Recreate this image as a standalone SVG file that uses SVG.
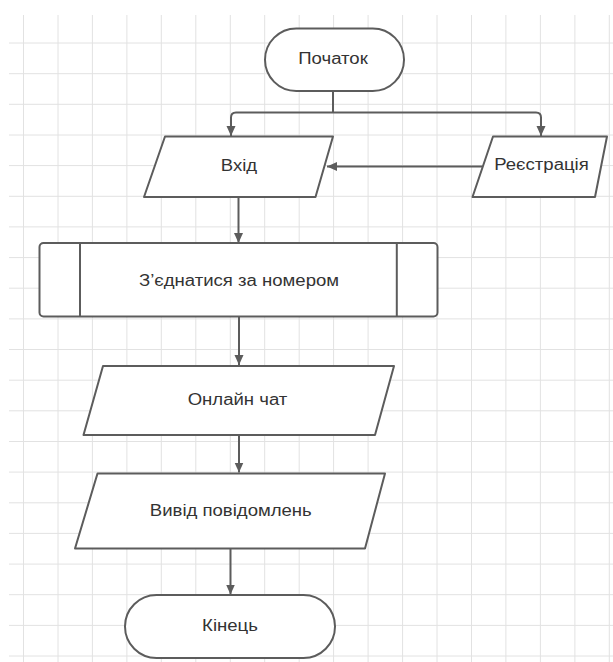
<svg xmlns="http://www.w3.org/2000/svg" width="613" height="662" viewBox="0 0 613 662">
<style>
.grid line{stroke:#e2e2e2;stroke-width:1}
.shape{fill:#fff;stroke:#5c5c5c;stroke-width:2;stroke-linejoin:round}
.conn path{fill:none;stroke:#5c5c5c;stroke-width:2}
.lbl{font-family:"Liberation Sans",Arial,sans-serif;font-size:16px;fill:#333;text-anchor:middle}
</style>
<defs>
<marker id="arr" markerUnits="userSpaceOnUse" markerWidth="11" markerHeight="10" refX="10" refY="4.5" orient="auto">
<path d="M0,0 L10,4.5 L0,9 z" fill="#5c5c5c"/>
</marker>
</defs>
<rect width="613" height="662" fill="#fff"/>
<g class="grid">
<line x1="23.5" y1="15" x2="23.5" y2="662"/>
<line x1="58" y1="15" x2="58" y2="662"/>
<line x1="92.4" y1="15" x2="92.4" y2="662"/>
<line x1="126.9" y1="15" x2="126.9" y2="662"/>
<line x1="161.3" y1="15" x2="161.3" y2="662"/>
<line x1="195.8" y1="15" x2="195.8" y2="662"/>
<line x1="230.3" y1="15" x2="230.3" y2="662"/>
<line x1="264.7" y1="15" x2="264.7" y2="662"/>
<line x1="299.2" y1="15" x2="299.2" y2="662"/>
<line x1="333.6" y1="15" x2="333.6" y2="662"/>
<line x1="368.1" y1="15" x2="368.1" y2="662"/>
<line x1="402.6" y1="15" x2="402.6" y2="662"/>
<line x1="437" y1="15" x2="437" y2="662"/>
<line x1="471.5" y1="15" x2="471.5" y2="662"/>
<line x1="505.9" y1="15" x2="505.9" y2="662"/>
<line x1="540.4" y1="15" x2="540.4" y2="662"/>
<line x1="574.9" y1="15" x2="574.9" y2="662"/>
<line x1="609.3" y1="15" x2="609.3" y2="662"/>
<line x1="9" y1="43" x2="613" y2="43"/>
<line x1="9" y1="73.7" x2="613" y2="73.7"/>
<line x1="9" y1="104.3" x2="613" y2="104.3"/>
<line x1="9" y1="135" x2="613" y2="135"/>
<line x1="9" y1="165.6" x2="613" y2="165.6"/>
<line x1="9" y1="196.3" x2="613" y2="196.3"/>
<line x1="9" y1="226.9" x2="613" y2="226.9"/>
<line x1="9" y1="257.6" x2="613" y2="257.6"/>
<line x1="9" y1="288.2" x2="613" y2="288.2"/>
<line x1="9" y1="318.9" x2="613" y2="318.9"/>
<line x1="9" y1="349.5" x2="613" y2="349.5"/>
<line x1="9" y1="380.2" x2="613" y2="380.2"/>
<line x1="9" y1="410.8" x2="613" y2="410.8"/>
<line x1="9" y1="441.5" x2="613" y2="441.5"/>
<line x1="9" y1="472.1" x2="613" y2="472.1"/>
<line x1="9" y1="502.8" x2="613" y2="502.8"/>
<line x1="9" y1="533.4" x2="613" y2="533.4"/>
<line x1="9" y1="564.1" x2="613" y2="564.1"/>
<line x1="9" y1="594.7" x2="613" y2="594.7"/>
<line x1="9" y1="625.4" x2="613" y2="625.4"/>
<line x1="9" y1="656" x2="613" y2="656"/>
</g>
<g class="conn">
<path d="M333,91 V112.5"/>
<path d="M333,112.5 H236 Q231,112.5 231,117.5 V136" marker-end="url(#arr)"/>
<path d="M333,112.5 H536 Q541,112.5 541,117.5 V136" marker-end="url(#arr)"/>
<path d="M482,166.5 H327" marker-end="url(#arr)"/>
<path d="M238.5,197 V243" marker-end="url(#arr)"/>
<path d="M239,317 V365" marker-end="url(#arr)"/>
<path d="M239,435 V472.5" marker-end="url(#arr)"/>
<path d="M230.5,548.5 V594.5" marker-end="url(#arr)"/>
</g>
<g id="start">
<rect class="shape" x="265" y="28.5" width="139" height="62.5" rx="31.25"/>
<text class="lbl" transform="translate(333,64) scale(1.16,1)">Початок</text>
</g>
<g id="input">
<path class="shape" d="M165,136.5 H333 L315.5,197 H144 Z"/>
<text class="lbl" transform="translate(239,171) scale(1.16,1)">Вхід</text>
</g>
<g id="register">
<path class="shape" d="M493,136.5 H607 L595,197 H472.5 Z"/>
<text class="lbl" transform="translate(541.5,170) scale(1.16,1)">Реєстрація</text>
</g>
<g id="connect">
<rect class="shape" x="39.5" y="243" width="398" height="73.5" rx="4"/>
<line class="shape" x1="80" y1="243" x2="80" y2="316.5"/>
<line class="shape" x1="396.8" y1="243" x2="396.8" y2="316.5"/>
<text class="lbl" transform="translate(239,285.7) scale(1.16,1)">З’єднатися за номером</text>
</g>
<g id="chat">
<path class="shape" d="M103,366 H394 L375,435 H83.5 Z"/>
<text class="lbl" transform="translate(237.5,405) scale(1.16,1)">Онлайн чат</text>
</g>
<g id="output">
<path class="shape" d="M97.5,473.5 H385 L365,548.5 H75 Z"/>
<text class="lbl" transform="translate(230.8,515.7) scale(1.16,1)">Вивід повідомлень</text>
</g>
<g id="end">
<rect class="shape" x="125" y="595" width="210" height="63" rx="31.5"/>
<text class="lbl" transform="translate(230,630.7) scale(1.16,1)">Кінець</text>
</g>
</svg>
